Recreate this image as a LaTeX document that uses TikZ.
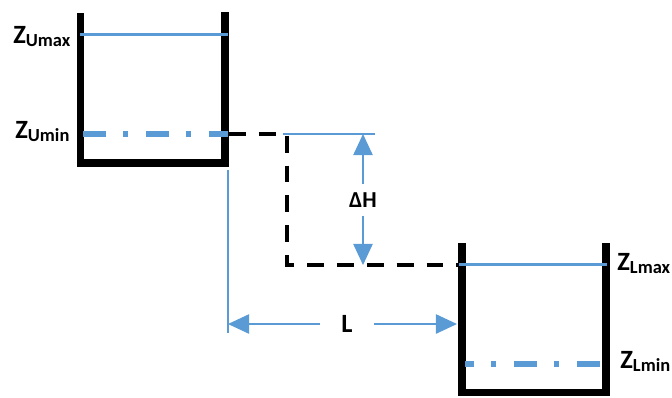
\documentclass[tikz,border=0pt]{standalone}
\usepackage{fontspec}
\setmainfont{Carlito}
\usetikzlibrary{arrows.meta}
\definecolor{levelblue}{HTML}{5B9BD5}
\newcommand{\zsub}[1]{\raisebox{-2pt}{\fontsize{10.5}{12}\selectfont #1}}

\begin{document}
\begin{tikzpicture}[x = 0.02cm, y = -0.02cm,
	wall/.style = {black, line width = 4pt, line join = miter},
	level/.style = {levelblue, line width = 1.7pt},
	minlevel/.style = {levelblue, line width = 3.4pt, dash pattern = on 13pt off 10pt on 2.8pt off 10pt},
	pipe/.style = {black, line width = 2.3pt, dash pattern = on 9.6pt off 7.4pt},
	helper/.style = {levelblue, line width = 0.85pt},
	dimarrow/.style = {helper, -{Triangle[length = 12pt, width = 11pt]}},
	lbl/.style = {font = \fontsize{15}{18}\selectfont\bfseries, inner sep = 0pt}]
	%	frame
	\useasboundingbox (0, 0) rectangle (672, 397);
	
	%	upper tank
	\draw[wall] (80.5, 13) -- (80.5, 163) -- (225, 163) -- (225, 12);
	\draw[level] (80, 34) -- (228, 34);
	\draw[minlevel] (83, 134) -- (228, 134);
	\node[lbl, anchor = base west] (zumax) at (13, 43) {Z\zsub{Umax}};
	\node[lbl, anchor = base west] (zumin) at (15, 138) {Z\zsub{Umin}};
	
	%	lower tank
	\draw[wall] (462, 243) -- (462, 392) -- (606, 392) -- (606, 243);
	\draw[level] (457, 264) -- (607, 264);
	\draw[minlevel, dash phase = 8pt] (465, 364) -- (608, 364);
	\node[lbl, anchor = base west] (zlmax) at (617, 270) {Z\zsub{Lmax}};
	\node[lbl, anchor = base west] (zlmin) at (620, 368) {Z\zsub{Lmin}};
	
	%	connecting line
	\draw[pipe] (229, 134) -- (287, 134) -- (287, 265) -- (459, 265);
	
	%	height difference
	\coordinate (dHtop) at (363, 134);
	\coordinate (dHbot) at (363, 265);
	\draw[helper] (283, 134) -- (375, 134);
	\node[lbl, font = \fontsize{13}{15}\selectfont\bfseries, inner xsep = 2pt, inner ysep = 4.5pt] (dH) at (363, 200) {ΔH};
	\draw[dimarrow] (dH.north) -- (dHtop);
	\draw[dimarrow] (dH.south) -- (dHbot);
	
	%	length
	\coordinate (Lleft) at (228, 324);
	\coordinate (Lright) at (457, 324);
	\draw[helper] (228, 170) -- (228, 333);
	\node[lbl, inner xsep = 12pt] (L) at (347, 324) {L};
	\draw[dimarrow] (L.west) -- (Lleft);
	\draw[dimarrow] (L.east) -- (Lright);
\end{tikzpicture}
\end{document}
